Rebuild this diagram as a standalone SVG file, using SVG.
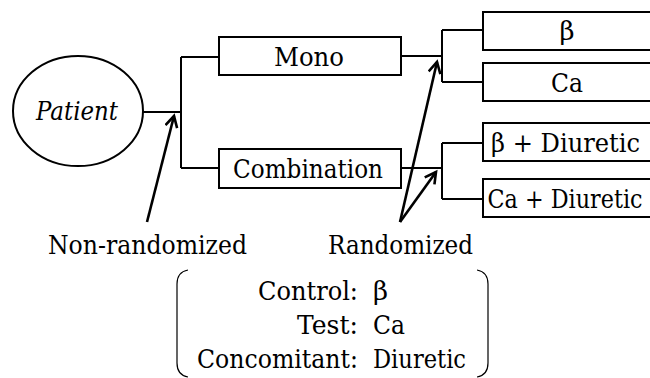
<svg xmlns="http://www.w3.org/2000/svg" width="650" height="378" viewBox="0 0 650 378">
<style>
text{font-family:'DejaVu Serif','Liberation Serif','Noto Serif',serif;font-size:26px;fill:#000}
.box{fill:#fff;stroke:#000;stroke-width:2}
.ln{fill:none;stroke:#000;stroke-width:2}
.arr{fill:none;stroke:#000;stroke-width:2.6}
.br{fill:none;stroke:#000;stroke-width:1.2}
.c{text-anchor:middle}
</style>
<defs>
<marker id="ah" markerUnits="userSpaceOnUse" markerWidth="20" markerHeight="20" refX="12" refY="7" orient="auto">
<path d="M1,1 L12,7 L1,13" fill="none" stroke="#000" stroke-width="2.6"/>
</marker>
</defs>
<g id="connectors">
<path class="ln" d="M143,112 H181 M181,57 V168 M181,57 H219 M181,168 H219"/>
<path class="ln" d="M401,56 H442 M442,30 V82 M442,30 H483 M442,82 H483"/>
<path class="ln" d="M401,168 H442 M442,143 V199 M442,143 H483 M442,199 H483"/>
<path class="arr" d="M147,222 L174,116" marker-end="url(#ah)"/>
<path class="arr" d="M400,222 L437,62" marker-end="url(#ah)"/>
<path class="arr" d="M400,222 L436,172" marker-end="url(#ah)"/>
</g>
<g id="patient">
<ellipse cx="78" cy="111" rx="65" ry="55" fill="#fff" stroke="#000" stroke-width="2"/>
<text x="77" y="120" class="c" font-style="italic" textLength="82" lengthAdjust="spacingAndGlyphs">Patient</text>
</g>
<g id="mono">
<rect class="box" x="219" y="37" width="182" height="38"/>
<text x="309" y="66" class="c" textLength="70" lengthAdjust="spacingAndGlyphs">Mono</text>
</g>
<g id="combination">
<rect class="box" x="219" y="149" width="182" height="39"/>
<text x="308" y="178" class="c" textLength="150" lengthAdjust="spacingAndGlyphs">Combination</text>
</g>
<g id="beta">
<rect class="box" x="483" y="12" width="170" height="38"/>
<text x="567" y="40" class="c">β</text>
</g>
<g id="ca">
<rect class="box" x="483" y="63" width="170" height="38"/>
<text x="567" y="92" class="c" textLength="32" lengthAdjust="spacingAndGlyphs">Ca</text>
</g>
<g id="beta-diuretic">
<rect class="box" x="483" y="123" width="170" height="38"/>
<text x="565.5" y="152" class="c" textLength="149" lengthAdjust="spacingAndGlyphs">β + Diuretic</text>
</g>
<g id="ca-diuretic">
<rect class="box" x="483" y="179" width="170" height="38"/>
<text x="565" y="208" class="c" textLength="155" lengthAdjust="spacingAndGlyphs">Ca + Diuretic</text>
</g>
<g id="non-randomized">
<text x="147.5" y="254" class="c" textLength="199" lengthAdjust="spacingAndGlyphs">Non-randomized</text>
</g>
<g id="randomized">
<text x="400.5" y="254" class="c" textLength="145" lengthAdjust="spacingAndGlyphs">Randomized</text>
</g>
<g id="legend">
<path class="br" d="M188,270 Q177,272 177,284 V363 Q177,375 188,377"/>
<path class="br" d="M477,270 Q488,272 488,284 V363 Q488,375 477,377"/>
<text x="258" y="300" textLength="100" lengthAdjust="spacingAndGlyphs">Control:</text>
<text x="373" y="300">β</text>
<text x="297" y="334" textLength="61" lengthAdjust="spacingAndGlyphs">Test:</text>
<text x="373" y="334" textLength="32" lengthAdjust="spacingAndGlyphs">Ca</text>
<text x="197" y="368" textLength="161" lengthAdjust="spacingAndGlyphs">Concomitant:</text>
<text x="373" y="368" textLength="93" lengthAdjust="spacingAndGlyphs">Diuretic</text>
</g>
</svg>
